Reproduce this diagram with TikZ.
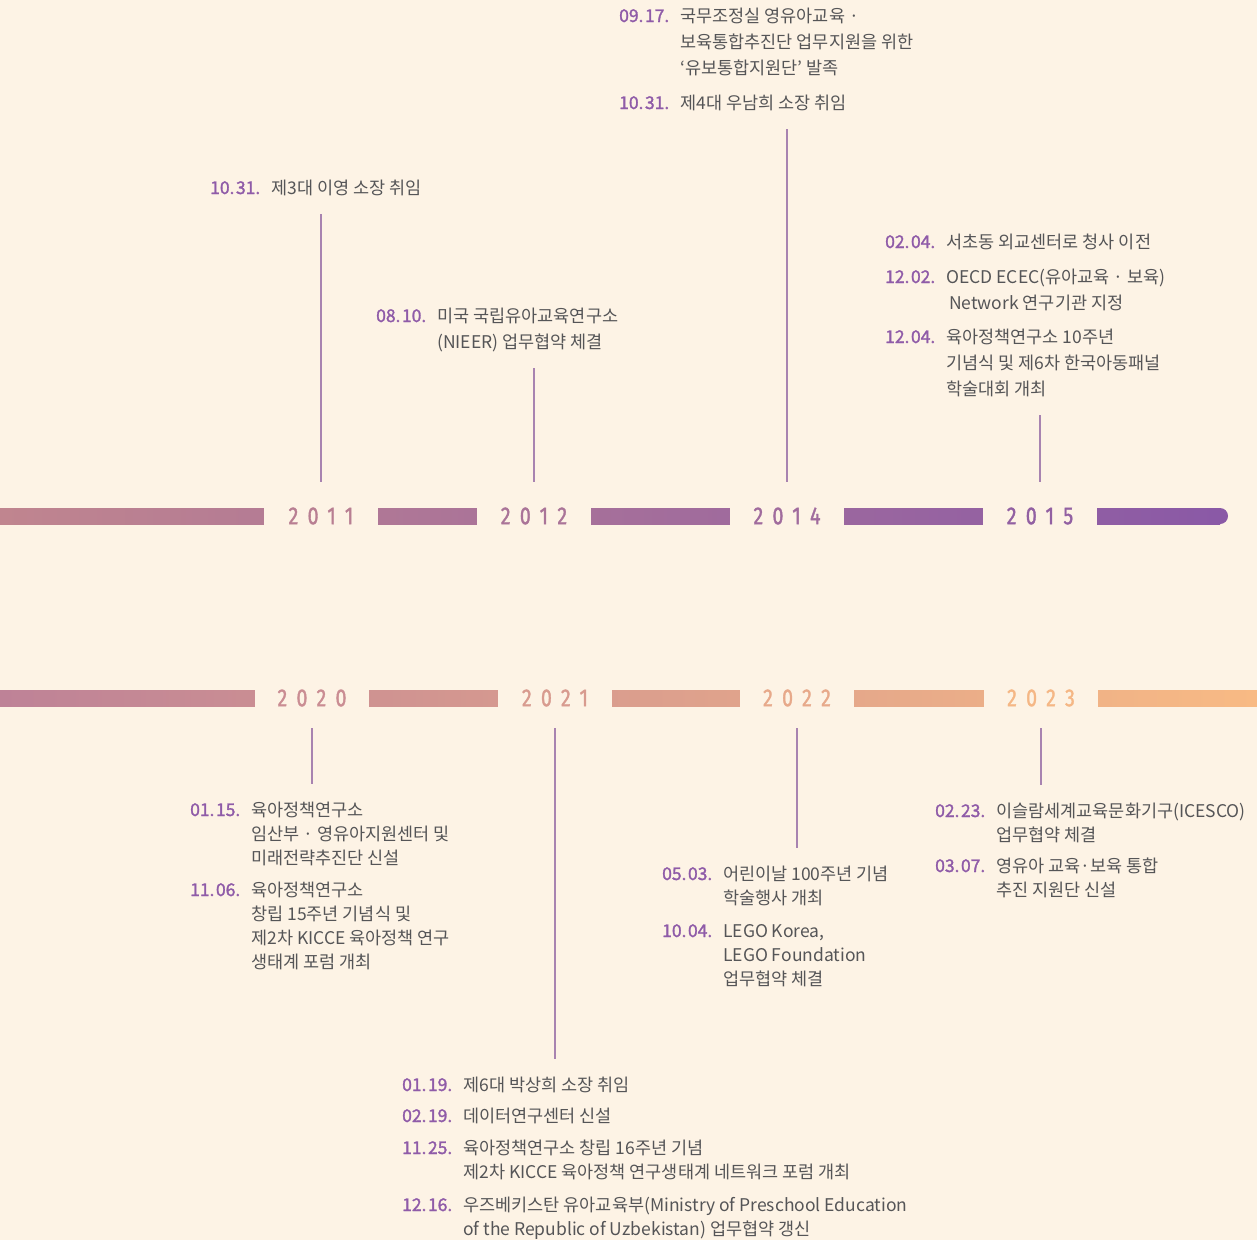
\documentclass[tikz,border=0pt]{standalone}
\usepackage{fontspec}
\usepackage{array}
\setmainfont{Noto Sans CJK KR}
\newfontfamily\datefont[FakeBold=1.6]{Noto Sans CJK KR}
\newfontfamily\yearfont[LetterSpace=38,FakeStretch=0.8,FakeBold=1.4]{Fira Sans}
\definecolor{bg}{HTML}{FDF3E5}
\definecolor{txt}{HTML}{555557}
\definecolor{datecol}{HTML}{8F5BA8}
\definecolor{linecol}{HTML}{A883B0}
\definecolor{topL}{HTML}{C0858F}
\definecolor{topR}{HTML}{8A59A6}
\definecolor{botL}{HTML}{BE8297}
\definecolor{botR}{HTML}{F8BA84}
\newcommand\dt[2]{\makebox[61pt][l]{\color{datecol}\datefont #1.\kern1.5pt#2.}}

\begin{document}
\begin{tikzpicture}[x=1pt,y=-1pt,
  yr/.style={fill=bg, minimum width=114pt, inner sep=0pt, font=\yearfont\fontsize{24.5}{24}\selectfont},
  evt/.style={anchor=base west, inner sep=0pt, text=txt},
  tick/.style={draw=linecol, line width=1.1pt}]
  \fill[bg] (0,0) rectangle (1257,1240);
  \useasboundingbox (0,0) rectangle (1257,1240);
  % bars
  \shade[left color=topL, right color=topR] (0,508) rectangle (1220,524);
  \fill[topR] (1220,516) circle (8);
  \shade[left color=botL, right color=botR] (0,690) rectangle (1257,706);
  % years
  \begin{scope}[every node/.append style={yr, minimum height=68pt}]
    \node[text=topL!85!topR] (y2011) at (321,516) {2011};
    \node[text=topL!60!topR] (y2012) at (534,516) {2012};
    \node[text=topL!40!topR] (y2014) at (787,516) {2014};
    \node[text=topL!15!topR] (y2015) at (1040,516) {2015};
  \end{scope}
  \begin{scope}[every node/.append style={yr, minimum height=60pt}]
    \node[text=botL!80!botR] (y2020) at (312,698) {2020};
    \node[text=botL!55!botR] (y2021) at (555,698) {2021};
    \node[text=botL!30!botR] (y2022) at (797,698) {2022};
    \node[text=botL!5!botR] (y2023) at (1041,698) {2023};
  \end{scope}
  % events above
  \begin{scope}[every node/.append style={evt, font=\fontsize{17.5}{26}\selectfont}]
    \node (ev2011) at (210,194) {\begin{tabular}[t]{@{}l@{}l@{}}
      \dt{10}{31} & 제3대 이영 소장 취임
    \end{tabular}};
    \node (ev2012) at (376,322) {\begin{tabular}[t]{@{}l@{}l@{}}
      \dt{08}{10} & 미국 국립유아교육연구소 \\
      & (NIEER) 업무협약 체결
    \end{tabular}};
    \node (ev2014) at (619,22) {\begin{tabular}[t]{@{}l@{}l@{}}
      \dt{09}{17} & 국무조정실 영유아교육 · \\
      & 보육통합추진단 업무지원을 위한 \\
      & ‘유보통합지원단’ 발족 \\[9pt]
      \dt{10}{31} & 제4대 우남희 소장 취임
    \end{tabular}};
    \node (ev2015) at (885,248) {\begin{tabular}[t]{@{}l@{}l@{}}
      \dt{02}{04} & 서초동 외교센터로 청사 이전 \\[9pt]
      \dt{12}{02} & OECD ECEC(유아교육 · 보육) \\
      & \hspace{3pt}Network 연구기관 지정 \\[8pt]
      \dt{12}{04} & 육아정책연구소 10주년 \\
      & 기념식 및 제6차 한국아동패널 \\
      & 학술대회 개최
    \end{tabular}};
  \end{scope}
  % events below
  \begin{scope}[every node/.append style={evt, font=\fontsize{17.5}{24}\selectfont}]
    \node (ev2020) at (190,816) {\begin{tabular}[t]{@{}l@{}l@{}}
      \dt{01}{15} & 육아정책연구소 \\
      & 임산부 · 영유아지원센터 및 \\
      & 미래전략추진단 신설 \\[8pt]
      \dt{11}{06} & 육아정책연구소 \\
      & 창립 15주년 기념식 및 \\
      & 제2차 KICCE 육아정책 연구 \\
      & 생태계 포럼 개최
    \end{tabular}};
    \node (ev2021) at (402,1091) {\begin{tabular}[t]{@{}l@{}l@{}}
      \dt{01}{19} & 제6대 박상희 소장 취임 \\[7pt]
      \dt{02}{19} & 데이터연구센터 신설 \\[8pt]
      \dt{11}{25} & 육아정책연구소 창립 16주년 기념 \\
      & 제2차 KICCE 육아정책 연구생태계 네트워크 포럼 개최 \\[9pt]
      \dt{12}{16} & 우즈베키스탄 유아교육부(Ministry of Preschool Education \\
      & of the Republic of Uzbekistan) 업무협약 갱신
    \end{tabular}};
    \node (ev2022) at (662,880) {\begin{tabular}[t]{@{}l@{}l@{}}
      \dt{05}{03} & 어린이날 100주년 기념 \\
      & 학술행사 개최 \\[9pt]
      \dt{10}{04} & LEGO Korea, \\
      & LEGO Foundation \\
      & 업무협약 체결
    \end{tabular}};
    \node (ev2023) at (935,817) {\begin{tabular}[t]{@{}l@{}l@{}}
      \dt{02}{23} & 이슬람세계교육문화기구(ICESCO) \\
      & 업무협약 체결 \\[7pt]
      \dt{03}{07} & 영유아 교육·보육 통합 \\
      & 추진 지원단 신설
    \end{tabular}};
  \end{scope}
  % ticks
  \foreach \y in {2011,2012,2014,2015}
    \draw[tick, shorten >=12pt] (y\y.north) -- (y\y.north |- ev\y.south);
  \foreach \y in {2020,2021,2022,2023}
    \draw[tick, shorten >=15pt] (y\y.south) -- (y\y.south |- ev\y.north);
\end{tikzpicture}
\end{document}
